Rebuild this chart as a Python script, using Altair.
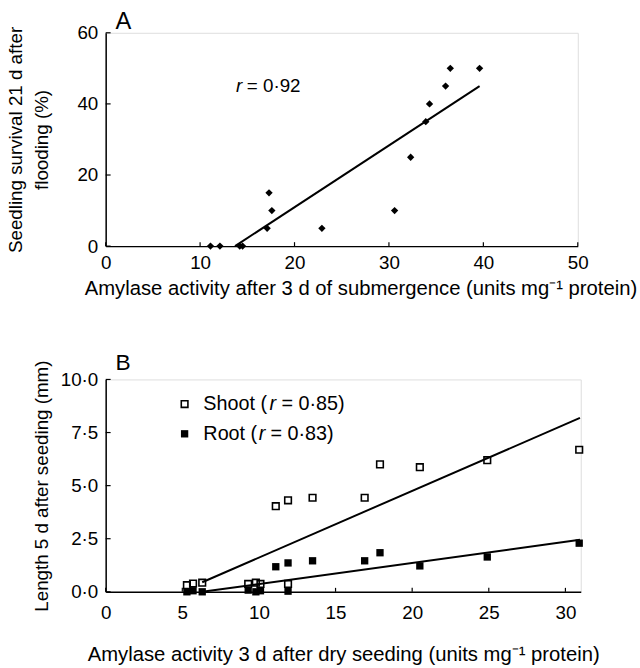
import altair as alt
import pandas as pd

FONT = "Liberation Sans"

# ---------------- Panel A data ----------------
a_x = [11.1, 12.1, 14.2, 14.5, 17.1, 17.3, 17.6, 22.9, 30.6, 32.3, 33.9, 34.3, 36.0, 36.5, 39.6]
a_y = [0, 0, 0, 0, 5, 15, 10, 5, 10, 25, 35, 40, 45, 50, 50]
a_fit_x = [13.7, 39.6]
a_fit_y = [0, 45]
a_xticks = [0, 10, 20, 30, 40, 50]
a_yticks = [0, 20, 40, 60]

# ---------------- Panel B data ----------------
b_x = [5.3, 5.7, 6.3, 9.3, 9.8, 10.1, 11.1, 11.9, 11.9, 13.5, 16.9, 17.9, 20.5, 24.9, 30.9]
b_shoot = [0.31, 0.39, 0.43, 0.37, 0.43, 0.37, 4.03, 4.31, 0.37, 4.43, 4.43, 6.0, 5.87, 6.2, 6.69]
b_root = [0.0, 0.05, 0.0, 0.08, 0.0, 0.05, 1.18, 1.36, 0.03, 1.46, 1.46, 1.84, 1.22, 1.64, 2.29]
b_shoot_fit_x = [6.3, 30.95]
b_shoot_fit_y = [0.45, 8.19]
b_root_fit_x = [6.3, 30.95]
b_root_fit_y = [0.0, 2.45]
b_xticks = [0, 5, 10, 15, 20, 25, 30]
b_yticks = [0, 2.5, 5, 7.5, 10]

WA, HA = 478, 216
WB, HB = 481, 215

def axis_x(title, values, title_x=None, label_padding=8, title_padding=6):
    kw = dict(values=values, ticks=False, grid=False, domainColor="black", domainWidth=1.5,
              labelFont=FONT, labelFontSize=19, labelColor="black", labelPadding=label_padding,
              labelFlush=False, title=title, titleFont=FONT, titleFontSize=20.5,
              titleFontWeight="normal", titleColor="black", titlePadding=title_padding)
    if title_x is not None:
        kw["titleX"] = title_x
    return alt.Axis(**kw)

def axis_y(title, values, label_expr=None, title_padding=10):
    kw = dict(values=values, ticks=False, grid=False, domainColor="black", domainWidth=1.5,
              labelFont=FONT, labelFontSize=19, labelColor="black", labelPadding=8,
              labelFlush=False, title=title, titleFont=FONT, titleFontSize=19,
              titleFontWeight="normal", titleColor="black", titlePadding=title_padding,
              titleLineHeight=26)
    if label_expr is not None:
        kw["labelExpr"] = label_expr
    return alt.Axis(**kw)

# ---------------- Panel A ----------------
xa = alt.Scale(domain=[0, 50], nice=False, zero=False)
ya = alt.Scale(domain=[0, 60], nice=False, zero=False)

dfa = pd.DataFrame({"x": a_x, "y": a_y})
dfa_fit = pd.DataFrame({"x": a_fit_x, "y": a_fit_y})

a_points = alt.Chart(dfa).mark_point(shape="diamond", filled=True, color="black", size=55, opacity=1).encode(
    x=alt.X("x:Q", scale=xa, axis=axis_x("Amylase activity after 3 d of submergence (units mg⁻¹ protein)", a_xticks, title_x=258)),
    y=alt.Y("y:Q", scale=ya, axis=axis_y(["Seedling survival 21 d after", "flooding (%)"], a_yticks, title_padding=26)),
)
a_fit = alt.Chart(dfa_fit).mark_line(color="black", strokeWidth=2).encode(
    x=alt.X("x:Q", scale=xa), y=alt.Y("y:Q", scale=ya)
)
a_xt = alt.Chart(pd.DataFrame({"v": a_xticks})).mark_rule(color="black", strokeWidth=1.2).encode(
    x=alt.X("v:Q", scale=xa), y=alt.value(HA), y2=alt.value(HA - 4)
)
a_yt = alt.Chart(pd.DataFrame({"v": a_yticks})).mark_rule(color="black", strokeWidth=1.2).encode(
    y=alt.Y("v:Q", scale=ya), x=alt.value(0), x2=alt.value(5)
)
a_lab = pd.DataFrame({"x": [13.8], "y": [45.0]})
a_r = alt.Chart(a_lab).mark_text(text="r", font=FONT, fontSize=19, fontStyle="italic", align="left",
                                 baseline="middle", color="black").encode(
    x=alt.X("x:Q", scale=xa), y=alt.Y("y:Q", scale=ya))
a_r2 = alt.Chart(a_lab).mark_text(text="= 0·92", font=FONT, fontSize=19, align="left", dx=11,
                                  baseline="middle", color="black").encode(
    x=alt.X("x:Q", scale=xa), y=alt.Y("y:Q", scale=ya))
a_panel = alt.Chart(pd.DataFrame({"t": ["A"]})).mark_text(font=FONT, fontSize=24, align="left",
                                                           baseline="alphabetic", color="black").encode(
    text="t:N", x=alt.value(10), y=alt.value(-4))

chartA = alt.layer(a_fit, a_points, a_xt, a_yt, a_r, a_r2, a_panel).properties(width=WA, height=HA)

# ---------------- Panel B ----------------
xb = alt.Scale(domain=[0, 31], nice=False, zero=False)
yb = alt.Scale(domain=[0, 10], nice=False, zero=False)

dfb = pd.DataFrame({"x": b_x, "shoot": b_shoot, "root": b_root})

b_shoot_pts = alt.Chart(dfb).mark_point(shape="square", filled=False, color="black", size=45,
                                        strokeWidth=1.6, opacity=1).encode(
    x=alt.X("x:Q", scale=xb, axis=axis_x("Amylase activity 3 d after dry seeding (units mg⁻¹ protein)", b_xticks,
                                         label_padding=12, title_padding=23)),
    y=alt.Y("shoot:Q", scale=yb, axis=axis_y("Length 5 d after seeding (mm)", b_yticks,
                                             label_expr="replace(format(datum.value, '.1f'), '.', '·')",
                                             title_padding=9)),
)
b_root_pts = alt.Chart(dfb).mark_point(shape="square", filled=True, color="black", size=55, opacity=1).encode(
    x=alt.X("x:Q", scale=xb), y=alt.Y("root:Q", scale=yb)
)
b_fit_s = alt.Chart(pd.DataFrame({"x": b_shoot_fit_x, "y": b_shoot_fit_y})).mark_line(color="black", strokeWidth=2).encode(
    x=alt.X("x:Q", scale=xb), y=alt.Y("y:Q", scale=yb))
b_fit_r = alt.Chart(pd.DataFrame({"x": b_root_fit_x, "y": b_root_fit_y})).mark_line(color="black", strokeWidth=2).encode(
    x=alt.X("x:Q", scale=xb), y=alt.Y("y:Q", scale=yb))
b_xt = alt.Chart(pd.DataFrame({"v": b_xticks})).mark_rule(color="black", strokeWidth=1.2).encode(
    x=alt.X("v:Q", scale=xb), y=alt.value(HB), y2=alt.value(HB - 4)
)
b_yt = alt.Chart(pd.DataFrame({"v": b_yticks})).mark_rule(color="black", strokeWidth=1.2).encode(
    y=alt.Y("v:Q", scale=yb), x=alt.value(0), x2=alt.value(5)
)

leg_x = [5.15]
leg_shoot_y = [8.84]
leg_root_y = [7.44]
dls = pd.DataFrame({"x": leg_x, "y": leg_shoot_y})
dlr = pd.DataFrame({"x": leg_x, "y": leg_root_y})

def enc(ch):
    return ch.encode(x=alt.X("x:Q", scale=xb), y=alt.Y("y:Q", scale=yb))

LF = 20
leg = [
    enc(alt.Chart(dls).mark_point(shape="square", filled=False, color="black", size=45, strokeWidth=1.6, opacity=1)),
    enc(alt.Chart(dlr).mark_point(shape="square", filled=True, color="black", size=55, opacity=1)),
    enc(alt.Chart(dls).mark_text(text="Shoot (", font=FONT, fontSize=LF, align="left", baseline="middle", dx=19, color="black")),
    enc(alt.Chart(dls).mark_text(text="r", font=FONT, fontSize=LF, fontStyle="italic", align="left", baseline="middle", dx=86, color="black")),
    enc(alt.Chart(dls).mark_text(text="= 0·85)", font=FONT, fontSize=LF, align="left", baseline="middle", dx=98, color="black")),
    enc(alt.Chart(dlr).mark_text(text="Root (", font=FONT, fontSize=LF, align="left", baseline="middle", dx=19, color="black")),
    enc(alt.Chart(dlr).mark_text(text="r", font=FONT, fontSize=LF, fontStyle="italic", align="left", baseline="middle", dx=75, color="black")),
    enc(alt.Chart(dlr).mark_text(text="= 0·83)", font=FONT, fontSize=LF, align="left", baseline="middle", dx=87, color="black")),
]
b_panel = alt.Chart(pd.DataFrame({"t": ["B"]})).mark_text(font=FONT, fontSize=23, align="left",
                                                           baseline="alphabetic", color="black").encode(
    text="t:N", x=alt.value(10), y=alt.value(-10))

chartB = alt.layer(b_fit_s, b_fit_r, b_shoot_pts, b_root_pts, b_xt, b_yt, *leg, b_panel).properties(width=WB, height=HB)

chart = alt.vconcat(chartA, chartB, spacing=52).properties(
    padding={"left": 6, "top": 5, "right": 2, "bottom": 2}
).configure_view(stroke=None).configure(background="white")

chart.save("out.html", embed_options={"renderer": "svg", "actions": False})
